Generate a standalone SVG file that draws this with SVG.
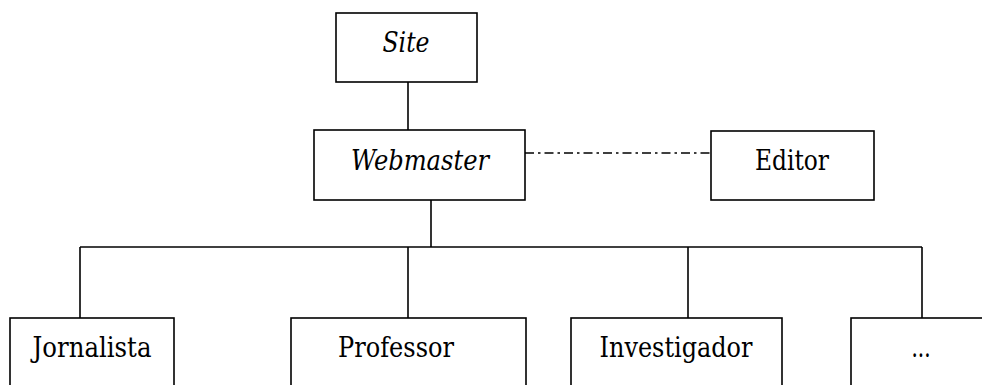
<svg xmlns="http://www.w3.org/2000/svg" width="982" height="385" viewBox="0 0 982 385">
  <style>
    .box { fill: #ffffff; stroke: #000000; stroke-width: 1.6; }
    .wire { fill: none; stroke: #000000; stroke-width: 1.6; }
    .dashdot { fill: none; stroke: #000000; stroke-width: 1.6; stroke-dasharray: 9 4 2.5 4; }
    .label { font-family: 'DejaVu Serif', serif; font-size: 27px; fill: #000000; text-anchor: middle; }
    .it { font-style: italic; }
  </style>
  <rect width="982" height="385" fill="#ffffff"/>

  <g id="connectors">
    <line class="wire" x1="408" y1="82" x2="408" y2="130"/>
    <line class="wire" x1="431" y1="200" x2="431" y2="247"/>
    <line class="wire" x1="80" y1="247" x2="922" y2="247"/>
    <line class="wire" x1="80" y1="247" x2="80" y2="318"/>
    <line class="wire" x1="408" y1="247" x2="408" y2="318"/>
    <line class="wire" x1="688" y1="247" x2="688" y2="318"/>
    <line class="wire" x1="922" y1="247" x2="922" y2="318"/>
    <line class="dashdot" x1="525" y1="153" x2="711" y2="153"/>
  </g>

  <g id="site">
    <rect class="box" x="336" y="13" width="141" height="69"/>
    <text class="label it" x="406" y="52" textLength="47" lengthAdjust="spacingAndGlyphs">Site</text>
  </g>

  <g id="webmaster">
    <rect class="box" x="314" y="130" width="211" height="70"/>
    <text class="label it" x="420" y="170" textLength="138" lengthAdjust="spacingAndGlyphs">Webmaster</text>
  </g>

  <g id="editor">
    <rect class="box" x="711" y="131" width="163" height="69"/>
    <text class="label" x="792" y="170" textLength="74" lengthAdjust="spacingAndGlyphs">Editor</text>
  </g>

  <g id="jornalista">
    <rect class="box" x="10" y="318" width="164" height="90"/>
    <text class="label" x="92" y="357" textLength="119" lengthAdjust="spacingAndGlyphs">Jornalista</text>
  </g>

  <g id="professor">
    <rect class="box" x="291" y="318" width="235" height="90"/>
    <text class="label" x="396" y="357" textLength="116" lengthAdjust="spacingAndGlyphs">Professor</text>
  </g>

  <g id="investigador">
    <rect class="box" x="571" y="318" width="211" height="90"/>
    <text class="label" x="676" y="357" textLength="153" lengthAdjust="spacingAndGlyphs">Investigador</text>
  </g>

  <g id="more">
    <rect class="box" x="851" y="318" width="150" height="90"/>
    <text class="label" x="921" y="357" textLength="19" lengthAdjust="spacingAndGlyphs">...</text>
  </g>
</svg>
